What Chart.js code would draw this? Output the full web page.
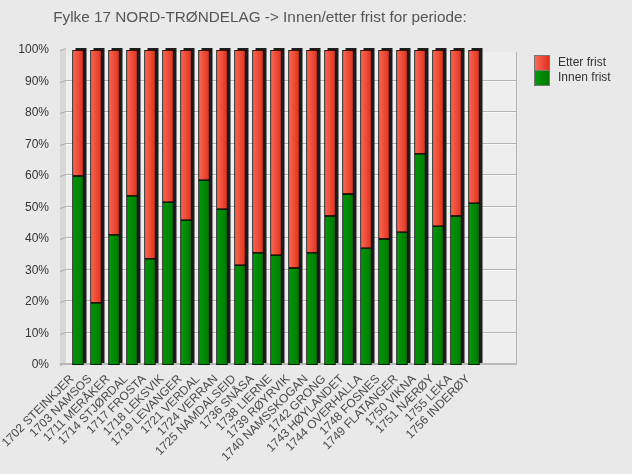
<!DOCTYPE html>
<html><head><meta charset="utf-8">
<script src="https://cdn.jsdelivr.net/npm/chart.js@4/dist/chart.umd.min.js"></script>
<style>
html,body{margin:0;padding:0;background:#e9e9e9;}
#wrap{position:relative;width:632px;height:474px;overflow:hidden;}
#title{position:absolute;left:0;top:8px;width:520px;text-align:center;font:15.3px "Liberation Sans",Arial,sans-serif;color:#555;white-space:nowrap;}
.box{position:absolute;left:534px;width:14px;height:14px;border:1px solid #777;}
.lt{position:absolute;left:558px;font:12px "Liberation Sans",Arial,sans-serif;color:#333;line-height:15px;}
canvas{position:absolute;left:0;top:0;}
</style></head>
<body><div id="wrap">
<canvas id="c" width="632" height="474"></canvas>
<div id="title">Fylke 17 NORD-TRØNDELAG -&gt; Innen/etter frist for periode:</div>
<div class="box" style="top:55px;background:linear-gradient(to right,#f96a55,#e2301c);"></div>
<div class="box" style="top:70px;background:linear-gradient(to right,#009a08,#007800);"></div>
<div class="lt" style="top:55px;">Etter frist</div>
<div class="lt" style="top:70px;">Innen frist</div>
</div>
<script>
const categories = ["1702 STEINKJER","1703 NAMSOS","1711 MERÅKER","1714 STJØRDAL","1717 FROSTA","1718 LEKSVIK","1719 LEVANGER","1721 VERDAL","1724 VERRAN","1725 NAMDALSEID","1736 SNÅSA","1738 LIERNE","1739 RØYRVIK","1740 NAMSSKOGAN","1742 GRONG","1743 HØYLANDET","1744 OVERHALLA","1748 FOSNES","1749 FLATANGER","1750 VIKNA","1751 NÆRØY","1755 LEKA","1756 INDERØY"];
const innenFrist = [60.0,19.7,41.3,53.7,33.7,51.7,46.0,58.7,49.5,31.7,35.6,34.9,30.8,35.6,47.3,54.3,37.1,40.0,42.2,67.0,44.1,47.3,51.4];
const etterFrist = [40.0,80.3,58.7,46.3,66.3,48.3,54.0,41.3,50.5,68.3,64.4,65.1,69.2,64.4,52.7,45.7,62.9,60.0,57.8,33.0,55.9,52.7,48.6];
const yTicks = [0,10,20,30,40,50,60,70,80,90,100];

function grad(c1, c2) {
  return (ctx) => {
    const ch = ctx.chart, xs = ch.scales && ch.scales.x;
    if (!xs || ctx.dataIndex === undefined) return c1;
    const x = xs.getPixelForValue(ctx.dataIndex);
    if (!isFinite(x)) return c1;
    const g = ch.ctx.createLinearGradient(x - 5.5, 0, x + 5.5, 0);
    g.addColorStop(0, c1); g.addColorStop(1, c2);
    return g;
  };
}

const wallPlugin = {
  id: 'wall',
  beforeDraw(chart) {
    const ctx = chart.ctx, ca = chart.chartArea, y = chart.scales.y;
    const left = ca.left - 3, right = 516;
    const top = y.getPixelForValue(100) + 2, bottom = y.getPixelForValue(0) - 2;
    ctx.save();
    ctx.fillStyle = '#eeeeee';
    ctx.fillRect(left, top, right - left, bottom - top);
    ctx.fillStyle = '#d8d8d8';
    ctx.fillRect(ca.left - 9, y.getPixelForValue(100), 6, y.getPixelForValue(0) - y.getPixelForValue(100));
    ctx.lineWidth = 1;
    yTicks.forEach(v => {
      const py = Math.round(y.getPixelForValue(v) - 2) + 0.5;
      if (v > 0 && v < 100) {
        ctx.strokeStyle = '#b4b4b4';
        ctx.beginPath(); ctx.moveTo(left, py); ctx.lineTo(right, py); ctx.stroke();
        ctx.strokeStyle = '#f8f8f8';
        ctx.beginPath(); ctx.moveTo(left, py + 1); ctx.lineTo(right, py + 1); ctx.stroke();
      }
      ctx.strokeStyle = '#aaaaaa';
      const ty = Math.round(y.getPixelForValue(v)) + 0.5;
      ctx.beginPath(); ctx.moveTo(ca.left - 9, ty); ctx.lineTo(ca.left - 3, ty - 2); ctx.stroke();
    });
    ctx.strokeStyle = '#b4b4b4';
    ctx.beginPath(); ctx.moveTo(right + 0.5, top); ctx.lineTo(right + 0.5, bottom); ctx.stroke();
    ctx.fillStyle = '#b8b8b8';
    ctx.fillRect(ca.left - 9, y.getPixelForValue(0) - 2, right - ca.left + 10, 2);
    ctx.restore();
  },
  beforeDatasetsDraw(chart) {
    const ctx = chart.ctx;
    const m0 = chart.getDatasetMeta(0), m1 = chart.getDatasetMeta(1);
    ctx.save();
    ctx.fillStyle = '#1c1c1c';
    m0.data.forEach((el, i) => {
      const topEl = m1.data[i];
      const w = el.width, base = el.base, top = topEl.y;
      ctx.fillRect(el.x - w / 2 + 3, top - 2, w, base - top);
    });
    ctx.restore();
  }
};

new Chart(document.getElementById('c'), {
  type: 'bar',
  data: {
    labels: categories,
    datasets: [
      { label: 'Innen frist', data: innenFrist, backgroundColor: grad('#00980a', '#007a00'), borderColor: '#000', borderWidth: 1, barThickness: 11, borderSkipped: false },
      { label: 'Etter frist', data: etterFrist, backgroundColor: grad('#f96a55', '#e2301c'), borderColor: '#000', borderWidth: 1, barThickness: 11, borderSkipped: false }
    ]
  },
  options: {
    responsive: false,
    devicePixelRatio: 1,
    animation: false,
    layout: { padding: { top: 50, right: 149, left: 0, bottom: 0 } },
    plugins: { legend: { display: false }, title: { display: false }, tooltip: { enabled: false } },
    scales: {
      x: {
        stacked: true,
        grid: { display: false, drawTicks: false },
        border: { display: false },
        ticks: { autoSkip: false, maxRotation: 45, minRotation: 45, color: '#4a4a4a', font: { family: 'Liberation Sans', size: 12 }, padding: 7, labelOffset: -6 },
        afterFit(s) { s.height = 109; }
      },
      y: {
        stacked: true, min: 0, max: 100,
        afterBuildTicks(s) { s.ticks = yTicks.map(v => ({ value: v })); },
        grid: { display: false, drawTicks: false },
        border: { display: false },
        ticks: { color: '#333', font: { family: 'Liberation Sans', size: 12 }, padding: 20, callback: v => v + '%' },
        afterFit(s) { s.width = 69; }
      }
    }
  },
  plugins: [wallPlugin]
});
</script>
</body></html>
